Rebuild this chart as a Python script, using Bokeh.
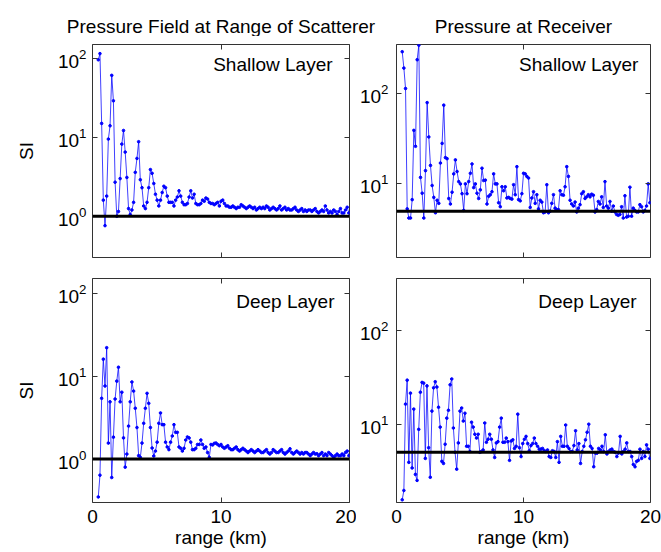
import numpy as np
from bokeh.plotting import figure
from bokeh.models import Range1d, FixedTicker, LogAxis, LinearAxis, Span, Label
from bokeh.layouts import column, row
from bokeh.embed import file_html
from bokeh.resources import INLINE

# ---------------- data ----------------
X_START, X_END = 0.45, 19.95          # range (km) of first / last sample

si_shallow_scatterer = [
    96, 115, 15, 1.6, 0.76, 1.8, 9.5, 14, 61, 29,
    2.7, 1.0, 1.15, 3.0, 8.2, 12.2, 6.5, 3.1, 1.25, 1.05,
    1.2, 1.5, 3.6, 5.4, 8.8, 2.9, 2.3, 1.35, 1.25, 1.5,
    2.3, 3.9, 3.5, 2.6, 1.9, 1.6, 1.35, 1.6, 2.0, 2.4,
    2.3, 1.8, 1.5, 1.5, 1.5, 1.35, 1.6, 1.75,
    2.1, 1.8, 1.5, 1.4, 1.4, 1.45, 1.75, 2.1, 1.7, 1.9,
    1.45, 1.4, 1.4, 1.45, 1.6, 1.55, 1.7, 1.65, 1.5, 1.45,
    1.45, 1.4, 1.45, 1.5, 1.35, 1.55, 1.6, 1.45, 1.35, 1.35,
    1.3, 1.3, 1.35, 1.3, 1.25, 1.3, 1.3, 1.4, 1.35, 1.3,
    1.25, 1.3, 1.35, 1.3, 1.25, 1.3, 1.2, 1.25, 1.3, 1.25,
    1.3, 1.25, 1.35, 1.3, 1.2, 1.25, 1.3, 1.25, 1.2, 1.25,
    1.35, 1.2, 1.25, 1.3, 1.2, 1.25, 1.2, 1.2, 1.25, 1.3,
    1.2, 1.15, 1.2, 1.25, 1.15, 1.2, 1.15, 1.2, 1.2, 1.15,
    1.2, 1.25, 1.15, 1.1, 1.15, 1.2, 1.15, 1.35, 1.2, 1.1,
    1.15, 1.1, 1.2, 1.15, 1.05, 1.15, 1.25, 1.1, 1.1, 1.2,
    1.3, 1.1,
]

si_shallow_receiver = [
    288, 190, 113, 5.3, 4.2, 4.2, 6.7, 39, 26, 235,
    340, 11.8, 7.9, 4.2, 14, 79, 33, 16, 9.6, 7.1,
    4.8, 6.6, 6.1, 17, 28, 74, 19.5, 19, 6.9, 6.0,
    8.1, 12.9, 18.4, 13.7, 10.6, 10, 7.8, 5.1, 10, 7.8,
    10.6, 13.1, 16.6, 9.1, 10, 7.9, 6.9, 8.6, 14.9, 10.9,
    11, 6.0, 7.3, 7.6, 8.2, 12.9, 10, 10, 6.2, 5.6,
    9.3, 8.4, 9.3, 7.0, 7.1, 6.9, 6.8, 9.8, 7.6, 15.5,
    6.7, 6.5, 7.8, 13.1, 12.9, 12.1, 11.6, 5.5, 7.0, 8.2,
    6.1, 7.6, 5.3, 6.6, 6.3, 4.8, 4.9, 9.8, 4.8, 5.0,
    6.1, 7.6, 5.4, 5.2, 5.2, 8.4, 7.6, 7.5, 9.3, 15.5,
    12.1, 6.6, 6.0, 5.7, 6.3, 4.9, 5.4, 5.9, 7.8, 8.2,
    6.9, 7.2, 7.6, 7.2, 7.7, 7.5, 4.9, 5.2, 6.4, 6.0,
    7.2, 5.5, 10.6, 5.7, 5.4, 6.4, 5.0, 5.7, 4.9, 4.6,
    4.5, 4.6, 5.6, 4.2, 7.4, 4.3, 4.4, 9.2, 4.4, 5.4,
    5.1, 4.9, 4.9, 5.9, 5.6, 4.9, 5.1, 5.7, 10, 6.2,
]

si_deep_scatterer = [
    0.35, 0.64, 5.4, 16, 7.6, 22, 1.56, 4.9, 0.6, 1.84,
    5.3, 8.7, 12.8, 4.9, 6.4, 1.8, 0.8, 1.15, 2.5, 4.9,
    8.5, 6.6, 4.1, 2.4, 1.1, 1.05, 1.56, 2.7, 4.1, 6.2,
    4.7, 2.4, 1.36, 1.09, 1.25, 1.6, 2.7, 3.6, 2.6, 2.6,
    1.6, 1.4, 1.3, 1.6, 1.9, 2.6, 2.1, 2.1, 1.4, 1.35,
    1.25, 1.35, 1.7, 1.85, 1.8, 1.6, 1.3, 1.3, 1.35, 1.5,
    1.5, 1.7, 1.5, 1.35, 1.4, 1.2, 1.05, 1.5, 1.48, 1.55,
    1.56, 1.5, 1.45, 1.5, 1.4, 1.35, 1.4, 1.45, 1.35, 1.3,
    1.3, 1.35, 1.4, 1.3, 1.25, 1.3, 1.35, 1.3, 1.25, 1.2,
    1.25, 1.3, 1.25, 1.2, 1.25, 1.3, 1.25, 1.2, 1.2, 1.25,
    1.3, 1.2, 1.15, 1.2, 1.3, 1.25, 1.2, 1.2, 1.25, 1.3,
    1.2, 1.15, 1.2, 1.25, 1.33, 1.2, 1.15, 1.2, 1.25, 1.2,
    1.15, 1.2, 1.15, 1.2, 1.2, 1.15, 1.1, 1.15, 1.2, 1.15,
    1.16, 1.1, 1.15, 1.2, 1.1, 1.15, 1.1, 1.2, 1.15, 1.1,
    1.05, 1.1, 1.15, 1.1, 1.1, 1.15, 1.1, 1.2, 1.25, 1.1,
]

si_deep_receiver = [
    1.55, 1.95, 16.4, 29.6, 3.9, 21.5, 3.4, 14.5, 2.9, 2.5,
    8.8, 22, 28, 27.5, 4.3, 25.7, 5.6, 2.7, 13.8, 24.5,
    28.5, 25, 15.2, 9.3, 4.0, 3.8, 6.1, 11.6, 14.1, 26.4,
    30.5, 9.1, 5.0, 3.3, 6.3, 13.8, 14.9, 10.8, 13.1, 5.8,
    5.8, 5.1, 10.5, 9.3, 7.8, 7.1, 7.8, 5.0, 5.1, 5.3,
    10.3, 6.4, 6.9, 7.8, 6.9, 5.3, 4.4, 6.3, 6.5, 9.3,
    11.6, 6.4, 6.4, 7.1, 6.5, 4.1, 6.6, 6.8, 5.5, 5.8,
    12.8, 5.6,
    4.5, 6.2, 6.9, 7.4, 6.2, 5.2, 5.9, 6.2, 7.1, 6.2,
    5.8, 5.4, 5.4, 5.5, 5.2, 5.1, 5.3, 4.5, 4.4, 5.2,
    5.1, 4.4, 6.5, 3.9, 7.4, 5.8, 5.8, 9.8, 5.8, 5.5,
    5.1, 5.1, 5.9, 8.5, 5.3, 6.2, 3.8, 5.1, 5.8, 6.8,
    8.2, 10, 5.8, 5.5, 3.5, 4.9, 4.9, 5.5, 5.3, 5.8,
    5.1, 7.7, 4.8, 5.1, 5.3, 5.4, 5.1, 5.0, 4.5, 4.9,
    7.4, 4.8, 5.1, 5.4, 6.3, 5.1, 5.1, 4.5, 3.7, 3.5,
    4.0, 4.1, 5.4, 4.3, 5.1, 4.5, 6.0, 5.4, 4.3,
]

ref_level_scatterer = 1.0
ref_level_receiver = 5.0

col_titles = ["Pressure Field at Range of Scatterer", "Pressure at Receiver"]
row_labels = ["Shallow Layer", "Deep Layer"]
x_label = "range (km)"
y_label = "SI"
x_ticks = [0, 10, 20]
y_ticks_scatterer = [1, 10, 100]
y_ticks_receiver = [10, 100]
y_lim_scatterer = (0.3, 150)
y_lim_shallow_receiver = (1.54, 346)
y_lim_deep_receiver = (1.45, 363)

# ---------------- styling / layout ----------------
FONT = "Liberation Sans"
FS = "19px"
BLUE = "#0000ff"
FRAME = "#333333"

TOTAL_W = 661
HEAD_H = 36
LEFT_W, RIGHT_W = 356, 305
LEFT_B = (92, 7)      # left, right border of left column
RIGHT_B = (40, 11)    # left, right border of right column
TOP_H, TOP_B = 226, (8, 5)
BOT_H, BOT_B = 288, (16, 47)


def hide_labels(ax):
    ax.major_label_text_font_size = "1px"
    ax.major_label_text_alpha = 0
    ax.major_label_standoff = 0


def panel(values, ref, ylim, yticks, text, text_pos, bottom, left_col):
    lb, rb = LEFT_B if left_col else RIGHT_B
    tb, bb = BOT_B if bottom else TOP_B
    p = figure(
        width=LEFT_W if left_col else RIGHT_W,
        height=BOT_H if bottom else TOP_H,
        y_axis_type="log",
        x_range=Range1d(0, 20), y_range=Range1d(*ylim),
        output_backend="svg", toolbar_location=None,
        min_border_left=lb, min_border_right=rb,
        min_border_top=tb, min_border_bottom=bb,
    )
    p.grid.visible = False
    p.outline_line_color = FRAME
    p.outline_line_width = 1

    x = np.linspace(X_START, X_END, len(values))
    p.line(x, values, line_color=BLUE, line_width=1, line_alpha=0.75)
    p.scatter(x, values, size=2.6, color=BLUE)
    p.add_layout(Span(location=ref, dimension="width", line_color="black", line_width=3))

    p.add_layout(Label(x=text_pos[0], y=text_pos[1], text=text, text_align="right",
                       text_baseline="middle", text_font=FONT, text_font_size=FS,
                       text_color="black"))

    xa = p.xaxis[0]
    xa.ticker = FixedTicker(ticks=x_ticks)
    ya = p.yaxis[0]
    ya.ticker = FixedTicker(ticks=yticks)
    for ax in (xa, ya):
        ax.axis_line_color = None
        ax.major_tick_in = 5
        ax.major_tick_out = 0
        ax.major_tick_line_color = FRAME
        ax.minor_tick_line_color = None
        ax.major_label_text_font = FONT
        ax.major_label_text_font_size = FS
        ax.major_label_text_color = "black"
        ax.axis_label_text_font = FONT
        ax.axis_label_text_font_size = FS
        ax.axis_label_text_font_style = "normal"
        ax.axis_label_text_color = "black"
    ya.major_label_standoff = 6 if left_col else 8
    if left_col:
        ya.axis_label = y_label
        ya.axis_label_standoff = 18
    if bottom:
        xa.axis_label = x_label
        xa.major_label_standoff = 7
        xa.axis_label_standoff = 1
    else:
        hide_labels(xa)

    # mirrored tick marks on the right and top edges
    ra = LogAxis(ticker=FixedTicker(ticks=yticks))
    ta = LinearAxis(ticker=FixedTicker(ticks=x_ticks))
    for ax in (ra, ta):
        ax.axis_line_color = None
        ax.major_tick_in = 5
        ax.major_tick_out = 0
        ax.major_tick_line_color = FRAME
        ax.minor_tick_line_color = None
        hide_labels(ax)
    p.add_layout(ra, "right")
    p.add_layout(ta, "above")
    return p


# header strip that carries the two column titles
head = figure(width=TOTAL_W, height=HEAD_H, x_range=Range1d(0, TOTAL_W), y_range=Range1d(0, HEAD_H),
              x_axis_type=None, y_axis_type=None, output_backend="svg", toolbar_location=None,
              min_border=0)
head.grid.visible = False
head.outline_line_color = None
title_x = [LEFT_B[0] + (LEFT_W - LEFT_B[0] - LEFT_B[1]) / 2,
           LEFT_W + RIGHT_B[0] + (RIGHT_W - RIGHT_B[0] - RIGHT_B[1]) / 2]
for tx, tt in zip(title_x, col_titles):
    head.add_layout(Label(x=tx, y=10, text=tt, text_align="center", text_baseline="alphabetic",
                          text_font=FONT, text_font_size=FS, text_color="black"))

p_tl = panel(si_shallow_scatterer, ref_level_scatterer, y_lim_scatterer, y_ticks_scatterer,
             row_labels[0], (18.68, 84), False, True)
p_tr = panel(si_shallow_receiver, ref_level_receiver, y_lim_shallow_receiver, y_ticks_receiver,
             row_labels[0], (19.05, 206), False, False)
p_bl = panel(si_deep_scatterer, ref_level_scatterer, y_lim_scatterer, y_ticks_scatterer,
             row_labels[1], (18.83, 80), True, True)
p_br = panel(si_deep_receiver, ref_level_receiver, y_lim_deep_receiver, y_ticks_receiver,
             row_labels[1], (18.9, 207), True, False)

layout = column(head, row(p_tl, p_tr), row(p_bl, p_br))
open("out.html", "w").write(file_html(layout, INLINE))
